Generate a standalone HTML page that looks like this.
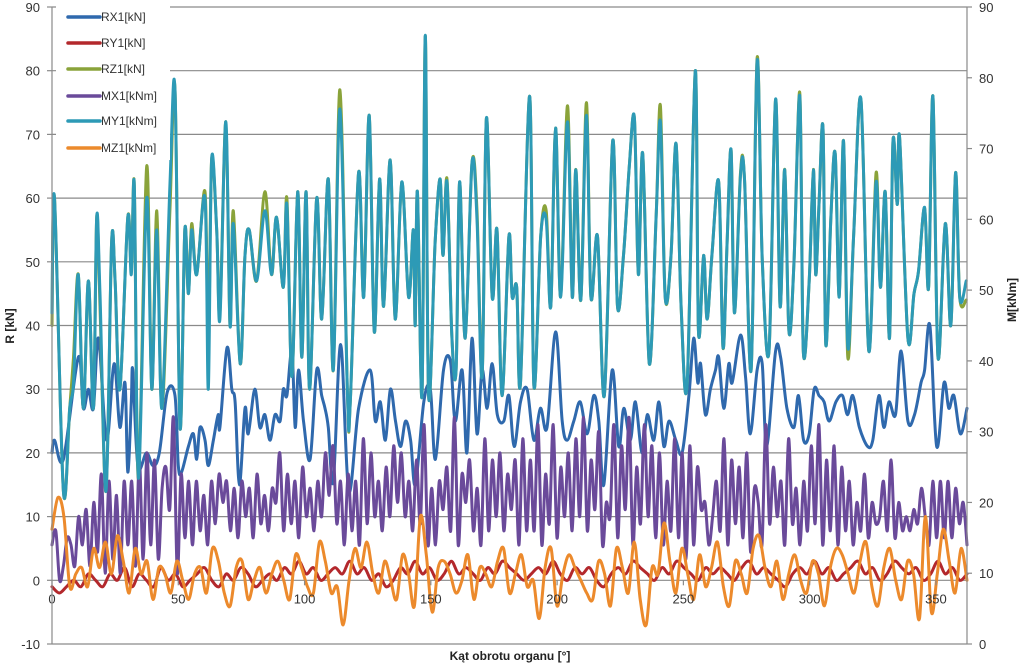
<!DOCTYPE html>
<html><head><meta charset="utf-8"><style>
body{margin:0;background:#fff}
svg text{font-family:"Liberation Sans",sans-serif}
</style></head><body>
<svg id="chart" width="1024" height="664" viewBox="0 0 1024 664" xmlns="http://www.w3.org/2000/svg">
<g id="grid"></g>
<g id="series"></g>
<g id="axes"></g>
<g id="legend"></g>
</svg>
<script>
// ---- data ----
const rTicks = [-10,0,10,20,30,40,50,60,70,80,90];
const mTicks = [0,10,20,30,40,50,60,70,80,90];
const xTicks = [0,50,100,150,200,250,300,350];
const seriesNames = ["RX1[kN]","RY1[kN]","RZ1[kN]","MX1[kNm]","MY1[kNm]","MZ1[kNm]"];

const peakAngles = [0,1,4.5,7,8.5,10.4,12.4,14.4,16.4,17.7,19,21.4,23.6,25,26.9,30,31.4,32.6,34.2,37.5,39.5,41.5,43.5,46.7,48.7,50.7,52.6,54,55.3,57.3,60.6,61.9,63.2,65.2,66.5,68.8,70.5,71.8,74.5,76.4,78.1,81,84.3,86.9,88.9,91.6,93,95,97.3,98.9,100.6,102,104.8,106.8,109.4,111.4,114,117,118.1,121.4,123.4,125.6,127.6,129.7,131.3,133.9,135.9,138.5,141.2,143.1,143.8,144.7,146.5,147.8,149.1,151.7,153.7,154.8,156.4,158.3,160,161.4,163.6,166.3,168.3,170.3,172,174.3,176.2,178.2,180.9,182.2,184,185.5,189.1,190.8,193.5,195.7,197.5,199.4,201.4,204.1,206,207.4,209.4,211.6,213.4,216,218.7,222,223.9,226.3,228.6,230.6,232.2,233.9,236.5,239.2,240.9,242.8,245.1,247.1,249.1,251.5,254.7,256,258,259.4,261.3,264,265.7,267.3,268.9,270.2,272.6,274.2,276.8,279.2,281.2,283.9,286.5,288.3,290.1,291.8,293.8,296.1,297.5,299.8,301.5,302.4,303.7,305.3,306.4,308.4,310.1,311.7,313.4,315.1,317.4,320.3,323.4,326.3,328,329.9,331.6,333,334.7,335.6,338.9,341.3,343.1,345.5,347.1,348.8,350.8,353.7,355.9,357.8,359.4,362];
const rz1 = [40,60,14,27,35,48,27,47,27,57,43,14,53,47,30,57,49,62,16,65,30,58,27,58,77,24,55,45,56,48,61,36,66,55,42,72,40,58,34,51,55,47,61,48,57,46,60,32,61,35,61,30,60,41,63,33,77,29,28,64,44.5,73,39,63,43,66,41,62.5,44.5,55,40,61,29,85.5,29,53,63,51,63,38.5,33,62.5,38,65.5,58,32,72.5,44.5,55,29,54,44.5,46,31,76,30.5,54,58,43,71,44.5,74.5,44.5,64.5,44,75,44.5,54,29,69,43,51,65,72.5,48,67,34,57,74.5,44.5,51,68.5,43,31,80,39,51,41,51,62.5,36.5,53,67.5,42,64,63,33,82,50.5,36,75.5,43,64.5,39,50,76.5,36,47,64.5,48,59,71,37,57,67,44.5,69,35,54,75.5,36,64,46,61,38,69,59,69.5,38,45,48.5,58.5,46,76,35,56,40,64,44.5,44];
const my1 = [46.8,63,21.6,33.3,36.9,52.2,33.3,51.3,33.3,60.3,49.5,21.6,56.7,51.3,36,60.3,52.2,64.8,23.4,63,36,58.5,33.3,64.8,78.3,30.6,58.5,49.5,58.5,52.2,63,36,68.4,58.5,45.9,73.8,45,59.4,39.6,54.9,58.5,51.3,61.2,52.2,60.3,50.4,62.1,37.8,63.9,40.5,63.9,36,63,45.9,65.7,38.7,75.6,35.1,34.2,66.6,49,74.7,44.1,65.7,47.7,68.4,45.9,65.3,49,58.5,45,63.9,35.1,86,35.1,56.7,65.7,54.9,65.3,43.7,38.7,65.3,43.2,68,59.9,37.8,74.3,49,58.5,35.1,57.6,49,50.4,36.9,77.4,36.5,57.6,59.9,47.7,72.9,49,73.8,49,67,48.6,74.7,49,57.6,35.1,71.1,47.7,54.9,67.5,74.3,52.2,69.3,39.6,60.3,73.8,49,54.9,70.7,47.7,36.9,81,44.1,54.9,45.9,54.9,65.3,41.9,56.7,69.8,46.8,66.2,65.7,38.7,82.4,54.5,41.4,77,47.7,67,44.1,54,77.4,41.4,51.3,67,52.2,62.1,72.9,42.3,60.3,69.3,49,71.1,41.9,57.6,77,41.4,65.3,50.4,63.9,43.2,71.1,62.1,71.6,43.2,49.5,52.7,61.7,50.4,77.4,40.5,59.4,45,66.6,49,51.3];

const rxAngles = [0,1,4.5,10.4,12.4,14.4,16.4,18.4,21.6,24.6,26.9,28.9,30,31.4,32,34,37.4,40,42.5,45.6,48.7,50,51.3,54,56,57.3,58.6,60.6,61.9,63.9,65.8,66.5,69.3,71.2,72.5,74.2,76.4,77.7,80.3,82.3,84.3,86.3,88.3,90.3,91.6,93,95,96.3,97.6,99.6,102.2,104.8,106.8,108.1,109.4,111.4,114.3,117.5,121.4,126,128,130,132,134,136,138,140,142,143.9,147.2,149.8,151.8,155,157.7,159.7,162.4,164.3,166.3,168.3,170.3,172.3,174.3,176.3,178.9,180.9,183,185.5,188.1,190.8,193.4,196,199.4,202,204,206.6,209.2,211.9,214.5,216.5,218.5,221.8,224.4,226.4,229,231,233.6,235.7,238.3,240.3,242.3,244.3,247,249.5,252.2,254.1,255.7,256.8,258.7,260.7,262.7,264,266,268,269.3,272.6,274.6,276.5,279.2,281.2,283,286.5,288.5,291,293.8,295.6,297.6,299.8,301.8,303.7,305.7,307.7,310.4,313,315,317.1,319.7,323,325,327.4,329.4,331.4,334,336.2,338.9,341.5,344.1,345.5,347.6,350.3,353.2,355.1,357.1,359.7,362.3];
const rx1 = [20,22,19,35,27,30,27,38,22,34,24,31,17,28,33,18,20,18,20,29.5,29,18,17,21,23,19,24,22,18,22,26,24,36.5,30,28,15,27,23,30,24,26,22,26,25,30,29,36,24,33,25,19,33,29,27,24,15.5,37,14,27,33,25,28,22,30,25,21,25,22,15,28,30,19,33,34.5,25,33,20,38,23,33,27,34,26,25,29,21,28,30,22,27,24,39,25,22,25,28,23,29,25,15,33,21,27,22,28,20,26,22,28,21,25,22,20,29,38,31,34,26,30,33,35,27,34,31,38.5,32,23,33,34,21,36,35,27,24,29,22,23,30,29,28,25,28,29,26,29,24,21,22,29,24,28,26,36,25,26,31,33,40,21,31,27,29,23,27];

const mx1 = [14,16,9,11,15,14,11,18,14,19,11,20,13,24,10,23,12,21,10,23,14,23,11,26,12,27,14,26,12,22,25,19,32,10,24,15,23,14,23,16,21,14,23,17,24,20,23,16,22,15,23,18,22,15,24,17,21,16,22,20,27,16,24,17,23,15,25,18,22,16,23,18,27,21,28,17,23,14,24,16,23,14,29,17,27,18,23,16,25,18,28,20,27,18,23,16,26,17,31,14,22,14,23,19,25,16,32,14,24,20,26,16,22,14,29,16,26,18,27,16,24,19,26,14,29,16,26,16,31,14,24,17,31,15,25,18,27,16,29,18,32,16,26,19,30,14,20,18,31,15,28,19,32,14,25,17,31,18,28,15,27,14,23,16,29,15,27,12,28,14,25,19,20,14,18,23,16,29,14,26,17,25,15,27,13,22,20,14,31,17,25,18,23,14,29,17,22,14,23,16,28,17,31,14,26,16,28,14,25,16,23,14,20,16,24,15,20,17,18,23,16,26,15,20,16,18,16,19,17,22,18,14,23,15,23,15,23,15,22,17,20,14];

const ry1 = [-1,-2,-1,0,-1,1,0,-1,1,0,2,-1,1,0,-1,2,0,1,-1,0,1,2,0,-1,1,0,2,1,-1,0,1,0,2,1,3,1,2,0,1,2,1,3,1,2,0,1,-1,0,2,1,3,1,2,0,1,3,1,2,1,0,2,1,3,2,1,0,1,2,1,3,1,0,2,1,2,0,-1,1,2,1,3,2,1,0,2,1,3,2,1,0,2,1,2,1,0,2,3,1,2,1,0,-1,1,2,1,3,1,2,0,1,2,3,1,2,0,1,3,2,1,2,0,1,3,1,2,0,1];

const mz1 = [16.2,20.7,18,8.1,9.9,10.8,8.1,13.5,10.8,14.4,9.9,15.3,11.7,7.2,13.5,9.9,11.7,6.3,10.8,9.9,7.2,11.7,9,6.3,9.9,10.8,7.2,13.5,11.7,7.2,5.4,10.8,11.7,6.3,9,10.8,7.2,9.9,11.7,9,6.3,12.6,10.8,8.1,7.2,14.4,11.7,7.2,8.1,2.7,9,13.5,10.8,14.4,9.9,7.2,11.7,9,6.3,12.6,9.9,5.4,18,12.6,4.5,10.8,11.7,9.9,7.2,9,12.6,6.3,10.8,9.9,8.1,11.7,13.5,7.2,9.9,12.6,8.1,9,3.6,10.8,13.5,5.4,9.9,12.6,10.8,9,7.2,6.3,11.7,9.9,5.4,13.5,10.8,7.2,14.4,6.3,2.7,10.8,9.9,17.1,11.7,7.2,13.5,9.9,6.3,12.6,8.1,10.8,14.4,8.1,5.4,11.7,9.9,7.2,13.5,15.3,10.8,8.1,11.7,6.3,9.9,12.6,9,7.2,11.7,9.9,5.4,10.8,13.5,12.6,9.9,7.2,11.7,14.4,8.1,5.4,10.8,13.5,9,6.3,11.7,9.9,3.6,18,4.5,9.9,16.2,11.7,7.2,13.5,9];

// ---- layout ----
const X0=52, X1=967, Y0=644, Y1=7, XMAX=362.3;
const xScale = d => X0 + d/XMAX*(X1-X0);
const yR = v => Y0 - (v+10)/100*(Y0-Y1);
const yM = v => Y0 - v/90*(Y0-Y1);
const NS="http://www.w3.org/2000/svg";
function mk(tag, attrs, parent){const e=document.createElementNS(NS,tag);for(const k in attrs)e.setAttribute(k,attrs[k]);parent.appendChild(e);return e;}
const grid=document.getElementById('grid'), axes=document.getElementById('axes'), ser=document.getElementById('series'), leg=document.getElementById('legend');

rTicks.forEach(t=>{
  const y=yR(t);
  const gl=mk('line',{x1:X0,x2:X1,y1:y,y2:y,stroke:'#8a8a8a','stroke-width':1.2},grid);
  
  
  const tk=mk('line',{x1:X0-5,x2:X0,y1:y,y2:y,stroke:'#8a8a8a','stroke-width':1.2},axes);
  
  
  const tx=mk('text',{x:40,y:y+5,'text-anchor':'end','font-size':13,fill:'#333'},axes);
  tx.textContent=t;
  
  
});
mTicks.forEach(t=>{
  const y=yM(t);
  const tk=mk('line',{x1:X1,x2:X1+5,y1:y,y2:y,stroke:'#8a8a8a','stroke-width':1.2},axes);
  
  
  const tx=mk('text',{x:979,y:y+5,'font-size':13,fill:'#333'},axes);
  tx.textContent=t;
  
  
});
xTicks.forEach(t=>{
  const x=xScale(t);
  const tk=mk('line',{x1:x,x2:x,y1:yR(0),y2:yR(0)+5,stroke:'#8a8a8a','stroke-width':1.2},axes);
  
  
  const tx=mk('text',{x:x,y:yR(0)+23,'text-anchor':'middle','font-size':13,fill:'#333'},axes);
  tx.textContent=t;
  
  
});
let a=mk('line',{x1:X0,x2:X0,y1:Y1,y2:Y0,stroke:'#8a8a8a','stroke-width':1.2},axes);


a=mk('line',{x1:X1,x2:X1,y1:Y1,y2:Y0,stroke:'#8a8a8a','stroke-width':1.2},axes);


let t=mk('text',{x:0,y:0,transform:'translate(14,326) rotate(-90)','text-anchor':'middle','font-size':12,'font-weight':'bold',fill:'#222'},axes);
t.textContent='R [kN]';


t=mk('text',{x:0,y:0,transform:'translate(1016,300) rotate(-90)','text-anchor':'middle','font-size':12,'font-weight':'bold',fill:'#222'},axes);
t.textContent='M[kNm]';


t=mk('text',{x:510,y:660,'text-anchor':'middle','font-size':12,'font-weight':'bold',fill:'#222'},axes);
t.textContent='Kąt obrotu organu [°]';



function smoothPath(pts){
  let d='M'+pts[0][0].toFixed(1)+','+pts[0][1].toFixed(1);
  for(let i=0;i<pts.length-1;i++){
    const p0=pts[Math.max(0,i-1)],p1=pts[i],p2=pts[i+1],p3=pts[Math.min(pts.length-1,i+2)];
    const c1=[p1[0]+(p2[0]-p0[0])/6,p1[1]+(p2[1]-p0[1])/6];
    const c2=[p2[0]-(p3[0]-p1[0])/6,p2[1]-(p3[1]-p1[1])/6];
    d+=' C'+c1[0].toFixed(1)+','+c1[1].toFixed(1)+' '+c2[0].toFixed(1)+','+c2[1].toFixed(1)+' '+p2[0].toFixed(1)+','+p2[1].toFixed(1);
  }
  return d;
}
function evenAngles(n){const s=XMAX/(n-1);return Array.from({length:n},(_,i)=>i*s);}
function drawSeries(angles, vals, yf, color, name){
  const pts=vals.map((v,i)=>[xScale(angles[i]), yf(v)]);
  const p=mk('path',{d:smoothPath(pts),fill:'none',stroke:color,'stroke-width':3,'stroke-linejoin':'round','stroke-linecap':'round'},ser);
  
  
}
const colors=['#2f69ad','#b3282c','#8aa33a','#6a4a9a','#2d9ab6','#ec8a2c'];
drawSeries(rxAngles, rx1, yR, colors[0], 'series-rx1');
drawSeries(evenAngles(ry1.length), ry1, yR, colors[1], 'series-ry1');
drawSeries(peakAngles, rz1, yR, colors[2], 'series-rz1');
drawSeries(evenAngles(mx1.length), mx1, yM, colors[3], 'series-mx1');
drawSeries(peakAngles, my1, yM, colors[4], 'series-my1');
drawSeries(evenAngles(mz1.length), mz1, yM, colors[5], 'series-mz1');

const bg=mk('rect',{x:56,y:0,width:114,height:160,fill:'#fff'},leg);


const legY=[17,43,69,96,121,148];
seriesNames.forEach((n,i)=>{
  const g=mk('g',{},leg);
  
  
  mk('line',{x1:68,x2:100,y1:legY[i],y2:legY[i],stroke:colors[i],'stroke-width':3.5,'stroke-linecap':'round'},g);
  const tx=mk('text',{x:101,y:legY[i]+4,'font-size':12,fill:'#333'},g);
  tx.textContent=n;
});
</script>
</body></html>
